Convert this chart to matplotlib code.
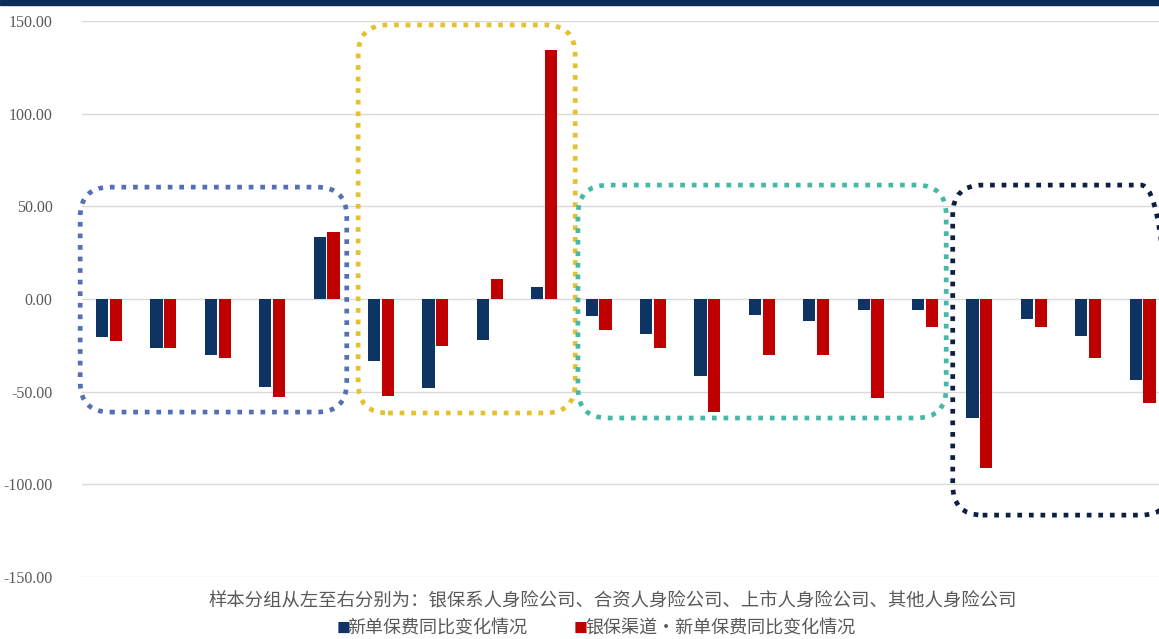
import matplotlib
matplotlib.use("Agg")
import matplotlib.pyplot as plt
from matplotlib.patches import FancyBboxPatch, Rectangle
import numpy as np

plt.rcParams['font.family'] = ['Noto Sans CJK SC', 'DejaVu Sans']

# 20 insurers, grouped left to right: 银保系 (5), 合资 (4), 上市 (7), 其他 (4)
new_premium = [-20.7, -26.4, -30.4, -47.3, 33.6,
               -33.5, -48.2, -22.3, 6.6,
               -9.4, -19.1, -41.7, -8.6, -11.9, -6.1, -6.1,
               -64.0, -11.0, -20.0, -43.9]
bank_premium = [-22.5, -26.4, -32.0, -52.9, 36.3,
                -52.2, -25.5, 10.6, 134.4,
                -16.7, -26.4, -61.0, -30.4, -30.4, -53.6, -15.1,
                -91.4, -15.1, -32.0, -56.1]
yticks = [150, 100, 50, 0, -50, -100, -150]
series_names = ['新单保费同比变化情况', '银保渠道·新单保费同比变化情况']
caption = '样本分组从左至右分别为：银保系人身险公司、合资人身险公司、上市人身险公司、其他人身险公司'

# dotted group frames: (x0, x1, y0, y1, colour)
frames = [(-0.53, 4.37, -61.0, 60.4, '#5470b4'),
          (4.58, 8.57, -61.5, 147.9, '#e3c130'),
          (8.62, 15.39, -64.2, 61.5, '#45b9a9'),
          (15.51, 19.52, -116.6, 61.5, '#0f1f40')]

navy = '#0e3463'
red = '#c00000'
grey = '#595959'

fig = plt.figure(figsize=(11.59, 6.39), dpi=100)
ax = fig.add_axes([0.0706, 0.097, 0.9387, 0.870])

x = np.arange(len(new_premium))
w = 0.225
ax.bar(x - w / 2 - 0.015, new_premium, w, color=navy, zorder=3)
ax.bar(x + w / 2 + 0.015, bank_premium, w, color=red, zorder=3)

ax.set_xlim(-0.5, len(x) - 0.5)
ax.set_ylim(-150, 150)
ax.set_yticks(yticks)
ax.set_yticklabels(['%.2f' % v for v in yticks], family='Liberation Serif',
                   fontsize=11.5, color=grey)
ax.tick_params(axis='y', length=0, pad=21)
ax.set_xticks([])
for s in ax.spines.values():
    s.set_visible(False)
ax.grid(axis='y', color='#d9d9d9', lw=1, zorder=0)

# rounded corners need the y/x data-per-pixel ratio
fig.canvas.draw()
p0 = ax.transData.transform((0, 0))
p1 = ax.transData.transform((1, 1))
aspect = abs((p1[0] - p0[0]) / (p1[1] - p0[1]))
for x0, x1, y0, y1, c in frames:
    box = FancyBboxPatch((x0, y0), x1 - x0, y1 - y0,
                         boxstyle='round,pad=0,rounding_size=0.55',
                         mutation_aspect=aspect, fill=False, edgecolor=c,
                         lw=3.4, linestyle=(0, (1, 1.45)), zorder=4,
                         clip_on=False)
    box.set_capstyle('butt')
    ax.add_patch(box)

# dark band across the top
fig.add_artist(Rectangle((0, 1 - 5 / 639), 1, 5 / 639, transform=fig.transFigure,
                         color='#0b2d5a', zorder=10))

fig.text(0.529, 0.059, caption, ha='center', va='center', fontsize=13.2, color=grey)
fig.text(0.290, 0.016, '■', ha='left', va='center', fontsize=10, color=navy)
fig.text(0.300, 0.016, series_names[0], ha='left', va='center', fontsize=13, color=grey)
fig.text(0.495, 0.016, '■', ha='left', va='center', fontsize=10, color=red)
fig.text(0.505, 0.016, series_names[1], ha='left', va='center', fontsize=13, color=grey)

fig.savefig('out.png', dpi=100)
